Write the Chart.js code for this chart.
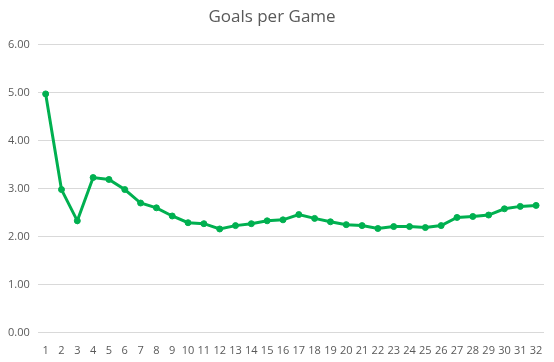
<!DOCTYPE html>
<html>
<head>
<meta charset="utf-8">
<script src="https://cdn.jsdelivr.net/npm/chart.js@4"></script>
<style>
  html, body { margin: 0; padding: 0; background: #fff; }
  #wrap { width: 554px; height: 362px; }
</style>
</head>
<body>
<div id="wrap"><canvas id="goalsChart"></canvas></div>
<script>
const games = [];
for (let i = 1; i <= 32; i++) games.push(String(i));

const goalsPerGame = [4.97, 2.98, 2.33, 3.23, 3.19, 2.98, 2.70, 2.60, 2.43, 2.29,
    2.27, 2.16, 2.23, 2.27, 2.33, 2.35, 2.46, 2.38, 2.31, 2.25,
    2.23, 2.17, 2.21, 2.21, 2.19, 2.23, 2.40, 2.42, 2.45, 2.58,
    2.63, 2.65];

const green = '#00b050';

new Chart(document.getElementById('goalsChart'), {
    type: 'line',
    data: {
        labels: games,
        datasets: [{
            label: 'Goals per Game',
            data: goalsPerGame,
            borderColor: green,
            backgroundColor: green,
            borderWidth: 3,
            pointRadius: 3,
            pointBorderWidth: 1,
            tension: 0
        }]
    },
    options: {
        responsive: true,
        maintainAspectRatio: false,
        animation: false,
        layout: {
            padding: { left: 0, right: 10, top: 7, bottom: 2 }
        },
        plugins: {
            legend: { display: false },
            tooltip: { enabled: false },
            title: {
                display: true,
                text: 'Goals per Game',
                color: '#595959',
                font: { family: 'Open Sans', size: 17, weight: 'normal' },
                padding: { top: 0, bottom: 17 }
            }
        },
        scales: {
            x: {
                offset: true,
                grid: { display: false },
                border: { display: false },
                ticks: {
                    color: '#595959',
                    font: { family: 'Open Sans', size: 11 },
                    maxRotation: 0,
                    autoSkip: false,
                    padding: 3
                }
            },
            y: {
                min: 0,
                max: 6,
                grid: { color: '#d9d9d9', drawTicks: false },
                border: { display: false },
                ticks: {
                    stepSize: 1,
                    color: '#595959',
                    font: { family: 'Open Sans', size: 11 },
                    padding: 8,
                    callback: v => v.toFixed(2)
                }
            }
        }
    }
});
</script>
</body>
</html>
